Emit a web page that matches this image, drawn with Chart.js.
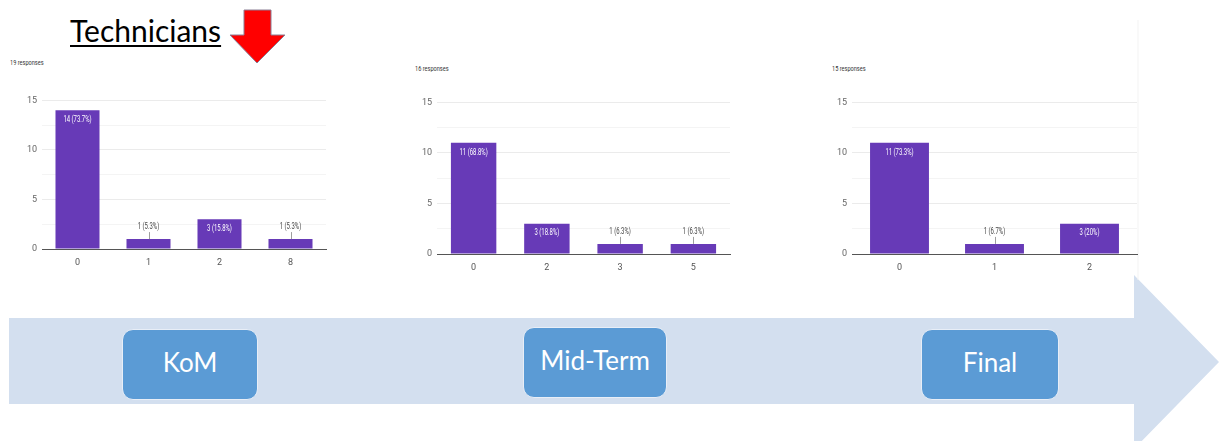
<!DOCTYPE html>
<html>
<head>
<meta charset="utf-8">
<script src="https://cdn.jsdelivr.net/npm/chart.js@4/dist/chart.umd.min.js"></script>
<style>
html,body{margin:0;padding:0;background:#fff;width:1219px;height:441px;overflow:hidden;position:relative;font-family:Lato,"Open Sans",sans-serif;}
.abs{position:absolute;}
.title{left:70px;top:10px;font-size:30px;color:#000;text-decoration:underline;text-decoration-thickness:2px;text-underline-offset:3px;line-height:40px;}
.resp{font-family:Roboto,sans-serif;font-size:8px;color:#333;transform:scaleX(0.7);transform-origin:left top;white-space:nowrap;}
.box{background:#5b9bd5;border:1.5px solid #e8eef7;border-radius:11px;color:#fff;font-size:26px;display:flex;align-items:center;justify-content:center;box-sizing:border-box;padding-bottom:6px;}
canvas{position:absolute;}
</style>
</head>
<body>
<svg class="abs" style="left:0;top:0" width="1219" height="441">
  <polygon points="9,318 1134,318 1134,275 1219,362 1134,449 1134,404 9,404" fill="#d3dfef"/>
  <polygon points="244,10 271,10 271,35 285,35 257,63 230,35 244,35" fill="#ff0000" stroke="#8a7f95" stroke-width="1"/>
  <line x1="1138" y1="20" x2="1138" y2="280" stroke="#f3f3f3" stroke-width="1"/>
</svg>
<div class="abs title">Technicians</div>
<div class="abs resp" style="left:10px;top:58px">19 responses</div>
<div class="abs resp" style="left:415px;top:64px">16 responses</div>
<div class="abs resp" style="left:832px;top:64px">15 responses</div>
<div class="abs box" style="left:122px;top:329px;width:136px;height:71px">KoM</div>
<div class="abs box" style="left:523px;top:327px;width:144px;height:71px">Mid-Term</div>
<div class="abs box" style="left:921px;top:329px;width:138px;height:71px">Final</div>

<canvas id="c1" style="left:12px;top:90px" width="318" height="179"></canvas>
<canvas id="c2" style="left:407px;top:92px" width="327" height="182"></canvas>
<canvas id="c3" style="left:822px;top:92px" width="319" height="182"></canvas>

<script>
// Data
const komCategories = ["0", "1", "2", "8"];
const komValues = [14, 1, 3, 1];
const komResponses = 19;

const midCategories = ["0", "2", "3", "5"];
const midValues = [11, 3, 1, 1];
const midResponses = 16;

const finalCategories = ["0", "1", "2"];
const finalValues = [11, 1, 3];
const finalResponses = 15;

const yTicks = [0, 5, 10, 15];

const barColor = "#673ab7";

const labelPlugin = {
  id: "barLabels",
  afterDatasetsDraw(chart) {
    const ctx = chart.ctx;
    const total = chart.options.plugins.barLabels.total;
    const meta = chart.getDatasetMeta(0);
    const data = chart.data.datasets[0].data;
    ctx.save();
    ctx.font = "9px Roboto, sans-serif";
    ctx.textAlign = "center";
    ctx.textBaseline = "middle";
    meta.data.forEach((bar, i) => {
      const v = data[i];
      const pct = Math.round(v / total * 1000) / 10;
      const txt = v + " (" + pct + "%)";
      const h = bar.base - bar.y;
      let ty, color;
      if (h > 20) {
        ty = bar.y + 9.5;
        color = "#ffffff";
      } else {
        ty = bar.y - 12;
        color = "#444444";
        ctx.strokeStyle = "#9e9e9e";
        ctx.lineWidth = 1;
        ctx.beginPath();
        ctx.moveTo(Math.round(bar.x) + 0.5, ty + 5);
        ctx.lineTo(Math.round(bar.x) + 0.5, bar.y);
        ctx.stroke();
      }
      ctx.save();
      ctx.translate(bar.x, ty);
      ctx.scale(0.66, 1);
      ctx.fillStyle = color;
      ctx.fillText(txt, 0, 0);
      ctx.restore();
    });
    ctx.restore();
  }
};

function makeChart(id, cats, vals, total) {
  return new Chart(document.getElementById(id), {
    type: "bar",
    data: {
      labels: cats,
      datasets: [{
        data: vals,
        backgroundColor: barColor,
        borderWidth: 0,
        categoryPercentage: 1,
        barPercentage: 0.62
      }]
    },
    options: {
      responsive: false,
      animation: false,
      layout: { padding: { top: 9, right: 4, left: 0, bottom: 0 } },
      plugins: {
        legend: { display: false },
        tooltip: { enabled: false },
        barLabels: { total: total }
      },
      scales: {
        x: {
          grid: { display: false, drawTicks: false },
          border: { display: true, color: "#555", width: 1 },
          ticks: { color: "#555", font: { family: "Roboto", size: 9 }, padding: 8 },
          afterFit(s) { s.height = 20; }
        },
        y: {
          min: 0, max: 15,
          afterBuildTicks(s) {
            const t = [];
            for (let v = 0; v <= 15; v += 2.5) t.push({ value: v });
            s.ticks = t;
          },
          grid: {
            color: (c) => (c.tick && yTicks.includes(c.tick.value)) ? "#ebebeb" : "#f4f4f4",
            drawTicks: false
          },
          border: { display: false },
          ticks: {
            color: "#666",
            font: { family: "Roboto", size: 9 },
            padding: 5,
            callback: (v) => yTicks.includes(v) ? String(v) : ""
          },
          afterFit(s) { s.width = 30; }
        }
      }
    },
    plugins: [labelPlugin]
  });
}

makeChart("c1", komCategories, komValues, komResponses);
makeChart("c2", midCategories, midValues, midResponses);
makeChart("c3", finalCategories, finalValues, finalResponses);
</script>
</body>
</html>
